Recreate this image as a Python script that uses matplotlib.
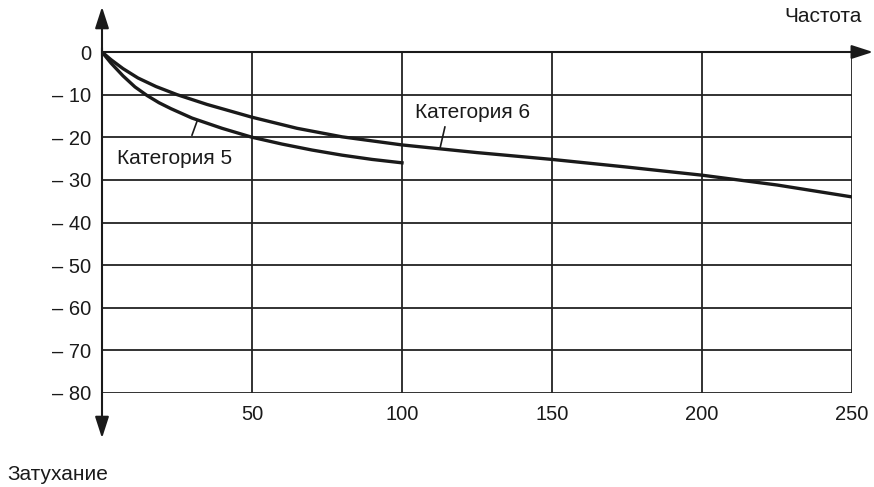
import matplotlib.pyplot as plt

plt.rcParams['font.family'] = ['Liberation Sans', 'DejaVu Sans']

# Attenuation curves
freq_cat5 = [0, 3, 7, 11, 15, 19, 23, 30, 40, 50, 60, 70, 80, 90, 100]
att_cat5 = [0, -2.6, -5.6, -8.2, -10.2, -11.9, -13.3, -15.5, -17.9, -20, -21.6, -23, -24.2,
            -25.2, -26]
freq_cat6 = [0, 3, 7, 12, 18, 25, 35, 50, 65, 80, 100, 125, 150, 175, 200, 225, 250]
att_cat6 = [0, -1.8, -3.9, -6.1, -8.1, -10, -12.3, -15.3, -17.9, -19.9, -21.8, -23.6, -25.2,
            -27, -28.9, -31.2, -34]

x_ticks = [50, 100, 150, 200, 250]
y_ticks = [0, -10, -20, -30, -40, -50, -60, -70, -80]
y_labels = ['0' if v == 0 else '\u2013 ' + str(-v) for v in y_ticks]

ink = '#1a1a1a'
fs = 15

fig = plt.figure(figsize=(8.74, 4.87), dpi=100)
ax = fig.add_axes([102 / 874, 1 - 393 / 487, 750 / 874, 341 / 487])
ax.set_xlim(0, 250)
ax.set_ylim(-80, 0)
for s in ax.spines.values():
    s.set_visible(False)

# grid
for x in x_ticks:
    ax.axvline(x, color='#222222', lw=1.3, zorder=1)
for y in y_ticks:
    ax.axhline(y, color='#222222', lw=1.3, zorder=1)

ax.set_xticks(x_ticks)
ax.set_yticks(y_ticks)
ax.set_yticklabels(y_labels)
ax.tick_params(axis='both', length=0, labelsize=14.5, colors=ink)
ax.tick_params(axis='x', pad=9)
ax.tick_params(axis='y', pad=8)

ax.plot(freq_cat5, att_cat5, color=ink, lw=2.4, zorder=3, solid_joinstyle='round')
ax.plot(freq_cat6, att_cat6, color=ink, lw=2.4, zorder=3, solid_joinstyle='round')

# axes with arrows
arrow = dict(arrowstyle='-|>,head_length=1.3,head_width=0.42', color=ink, lw=1.5,
             shrinkA=0, shrinkB=0)
ax.annotate('', xy=(0, 10.6), xytext=(0, -1), xycoords='data', arrowprops=arrow,
            annotation_clip=False)
ax.annotate('', xy=(0, -90.6), xytext=(0, 1), xycoords='data', arrowprops=arrow,
            annotation_clip=False)
ax.annotate('', xy=(257, 0), xytext=(0, 0), xycoords='data', arrowprops=arrow,
            annotation_clip=False)

# curve labels with leader lines
ax.text(5, -24.9, 'Категория 5', fontsize=fs, color=ink, va='center', ha='left', zorder=4)
ax.plot([30, 31.7], [-19.5, -16.2], color=ink, lw=1.2, zorder=3)
ax.text(104.3, -14.3, 'Категория 6', fontsize=fs, color=ink, va='center', ha='left', zorder=4)
ax.plot([112.7, 114.3], [-22.5, -17.6], color=ink, lw=1.2, zorder=3)

fig.text(862 / 874, 1 - 17 / 487, 'Частота', fontsize=fs, color=ink, ha='right', va='center')
fig.text(7 / 874, 1 - 475 / 487, 'Затухание', fontsize=fs, color=ink, ha='left', va='center')

fig.savefig('out.png', dpi=100)
